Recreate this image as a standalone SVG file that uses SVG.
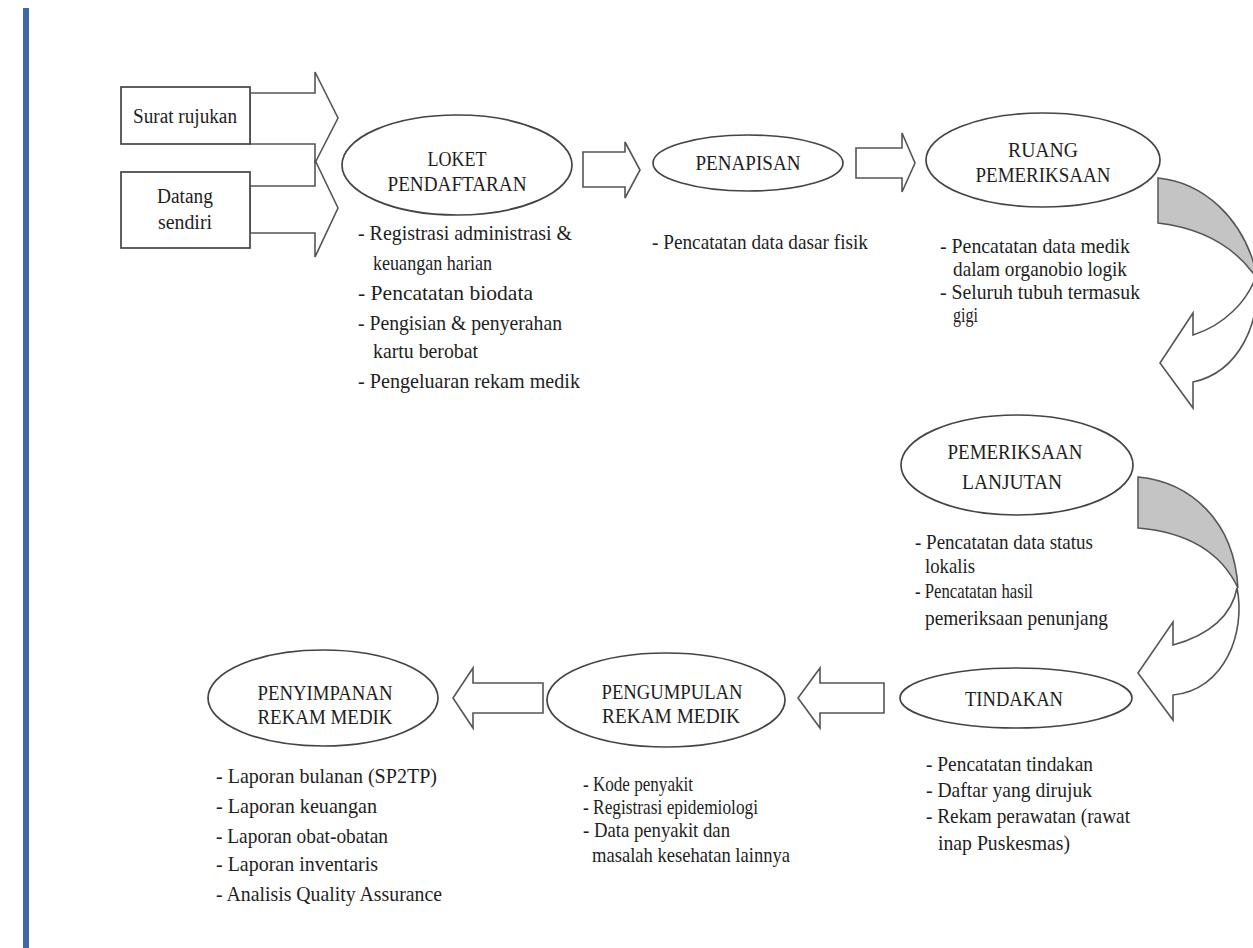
<svg xmlns="http://www.w3.org/2000/svg" width="1253" height="948" viewBox="0 0 1253 948">
<style>
.nd{fill:#fff;stroke:#444;stroke-width:1.7}
.ar{fill:#fff;stroke:#555;stroke-width:1.6;stroke-linejoin:miter}
.gr{fill:#c4c4c4;stroke:#555;stroke-width:1.5}
.lb{font-family:"Liberation Serif","Times New Roman",serif;font-size:20px;fill:#1e1e1e;text-anchor:middle}
.tx{font-family:"Liberation Serif","Times New Roman",serif;font-size:21px;fill:#1e1e1e}
</style>
<rect x="0" y="0" width="1253" height="948" fill="#fff"/>
<rect x="23" y="8" width="6" height="940" fill="#3f68a6"/>

<g id="connectors">
<polygon class="ar" points="250,93 315,93 315,72 338,118 315,163 315,144 250,144"/>
<polygon class="ar" points="250,186 315,186 315,160 338,208 315,257 315,233 250,233"/>
<polygon class="ar" points="583,152 625,152 625,142 640,170 625,198 625,187 583,187"/>
<polygon class="ar" points="856,148 902,148 902,133 915,163 902,192 902,178 856,178"/>
<polygon class="ar" points="884,683 820,683 820,668 798,698 820,728 820,713 884,713"/>
<polygon class="ar" points="543,683 473,683 473,668 453,698 473,728 473,713 543,713"/>
<path class="gr" d="M1158,178 C1200,182 1245,215 1258,280 C1235,245 1200,228 1158,223 Z"/>
<path class="ar" d="M1256,276 C1262,320 1240,372 1193,382 L1193,408 L1160,363 L1193,313 L1193,335 C1225,325 1248,300 1256,276 Z"/>
<path class="gr" d="M1138,477 C1190,482 1234,520 1238,588 C1220,550 1185,532 1138,528 Z"/>
<path class="ar" d="M1237,588 C1246,632 1225,690 1173,695 L1173,720 L1138,673 L1173,622 L1173,645 C1210,635 1232,615 1237,588 Z"/>
</g>

<g id="surat-rujukan">
<rect class="nd" x="121" y="87" width="129" height="57"/>
<text class="lb" x="185" y="123" textLength="104" lengthAdjust="spacingAndGlyphs">Surat rujukan</text>
</g>

<g id="datang-sendiri">
<rect class="nd" x="121" y="172" width="129" height="76"/>
<text class="lb" x="185" y="203" textLength="56" lengthAdjust="spacingAndGlyphs">Datang</text>
<text class="lb" x="185" y="229" textLength="54" lengthAdjust="spacingAndGlyphs">sendiri</text>
</g>

<g id="loket-pendaftaran">
<ellipse class="nd" cx="457" cy="165" rx="115" ry="50"/>
<text class="lb" x="457" y="166" textLength="59" lengthAdjust="spacingAndGlyphs">LOKET</text>
<text class="lb" x="457" y="191" textLength="139" lengthAdjust="spacingAndGlyphs">PENDAFTARAN</text>
<text class="tx" x="358" y="240" textLength="214" lengthAdjust="spacingAndGlyphs">- Registrasi administrasi &amp;</text>
<text class="tx" x="373" y="270" textLength="119" lengthAdjust="spacingAndGlyphs">keuangan harian</text>
<text class="tx" x="358" y="300" textLength="175" lengthAdjust="spacingAndGlyphs">- Pencatatan biodata</text>
<text class="tx" x="358" y="330" textLength="204" lengthAdjust="spacingAndGlyphs">- Pengisian &amp; penyerahan</text>
<text class="tx" x="373" y="358" textLength="105" lengthAdjust="spacingAndGlyphs">kartu berobat</text>
<text class="tx" x="358" y="388" textLength="222" lengthAdjust="spacingAndGlyphs">- Pengeluaran rekam medik</text>
</g>

<g id="penapisan">
<ellipse class="nd" cx="748" cy="163" rx="95" ry="28"/>
<text class="lb" x="748" y="170" textLength="105" lengthAdjust="spacingAndGlyphs">PENAPISAN</text>
<text class="tx" x="652" y="249" textLength="216" lengthAdjust="spacingAndGlyphs">- Pencatatan data dasar fisik</text>
</g>

<g id="ruang-pemeriksaan">
<ellipse class="nd" cx="1043" cy="160" rx="117" ry="47"/>
<text class="lb" x="1043" y="157" textLength="70" lengthAdjust="spacingAndGlyphs">RUANG</text>
<text class="lb" x="1043" y="182" textLength="135" lengthAdjust="spacingAndGlyphs">PEMERIKSAAN</text>
<text class="tx" x="940" y="253" textLength="190" lengthAdjust="spacingAndGlyphs">- Pencatatan data medik</text>
<text class="tx" x="953" y="276" textLength="174" lengthAdjust="spacingAndGlyphs">dalam organobio logik</text>
<text class="tx" x="940" y="299" textLength="200" lengthAdjust="spacingAndGlyphs">- Seluruh tubuh termasuk</text>
<text class="tx" x="953" y="322" textLength="25" lengthAdjust="spacingAndGlyphs">gigi</text>
</g>

<g id="pemeriksaan-lanjutan">
<ellipse class="nd" cx="1017" cy="465" rx="116" ry="50"/>
<text class="lb" x="1015" y="459" textLength="135" lengthAdjust="spacingAndGlyphs">PEMERIKSAAN</text>
<text class="lb" x="1012" y="489" textLength="100" lengthAdjust="spacingAndGlyphs">LANJUTAN</text>
<text class="tx" x="915" y="549" textLength="178" lengthAdjust="spacingAndGlyphs">- Pencatatan data status</text>
<text class="tx" x="925" y="573" textLength="50" lengthAdjust="spacingAndGlyphs">lokalis</text>
<text class="tx" x="915" y="598" textLength="118" lengthAdjust="spacingAndGlyphs">- Pencatatan hasil</text>
<text class="tx" x="925" y="625" textLength="183" lengthAdjust="spacingAndGlyphs">pemeriksaan penunjang</text>
</g>

<g id="tindakan">
<ellipse class="nd" cx="1016" cy="698" rx="116" ry="30"/>
<text class="lb" x="1014" y="706" textLength="98" lengthAdjust="spacingAndGlyphs">TINDAKAN</text>
<text class="tx" x="926" y="771" textLength="167" lengthAdjust="spacingAndGlyphs">- Pencatatan tindakan</text>
<text class="tx" x="926" y="797" textLength="166" lengthAdjust="spacingAndGlyphs">- Daftar yang dirujuk</text>
<text class="tx" x="926" y="823" textLength="204" lengthAdjust="spacingAndGlyphs">- Rekam perawatan (rawat</text>
<text class="tx" x="938" y="850" textLength="132" lengthAdjust="spacingAndGlyphs">inap Puskesmas)</text>
</g>

<g id="pengumpulan-rekam-medik">
<ellipse class="nd" cx="666" cy="700" rx="119" ry="47"/>
<text class="lb" x="672" y="699" textLength="141" lengthAdjust="spacingAndGlyphs">PENGUMPULAN</text>
<text class="lb" x="671" y="723" textLength="138" lengthAdjust="spacingAndGlyphs">REKAM MEDIK</text>
<text class="tx" x="583" y="791" textLength="110" lengthAdjust="spacingAndGlyphs">- Kode penyakit</text>
<text class="tx" x="583" y="814" textLength="175" lengthAdjust="spacingAndGlyphs">- Registrasi epidemiologi</text>
<text class="tx" x="583" y="837" textLength="147" lengthAdjust="spacingAndGlyphs">- Data penyakit dan</text>
<text class="tx" x="592" y="862" textLength="198" lengthAdjust="spacingAndGlyphs">masalah kesehatan lainnya</text>
</g>

<g id="penyimpanan-rekam-medik">
<ellipse class="nd" cx="323" cy="698" rx="115" ry="48"/>
<text class="lb" x="325" y="700" textLength="135" lengthAdjust="spacingAndGlyphs">PENYIMPANAN</text>
<text class="lb" x="325" y="724" textLength="135" lengthAdjust="spacingAndGlyphs">REKAM MEDIK</text>
<text class="tx" x="216" y="783" textLength="221" lengthAdjust="spacingAndGlyphs">- Laporan bulanan (SP2TP)</text>
<text class="tx" x="216" y="813" textLength="161" lengthAdjust="spacingAndGlyphs">- Laporan keuangan</text>
<text class="tx" x="216" y="843" textLength="172" lengthAdjust="spacingAndGlyphs">- Laporan obat-obatan</text>
<text class="tx" x="216" y="871" textLength="162" lengthAdjust="spacingAndGlyphs">- Laporan inventaris</text>
<text class="tx" x="216" y="901" textLength="226" lengthAdjust="spacingAndGlyphs">- Analisis Quality Assurance</text>
</g>
</svg>
